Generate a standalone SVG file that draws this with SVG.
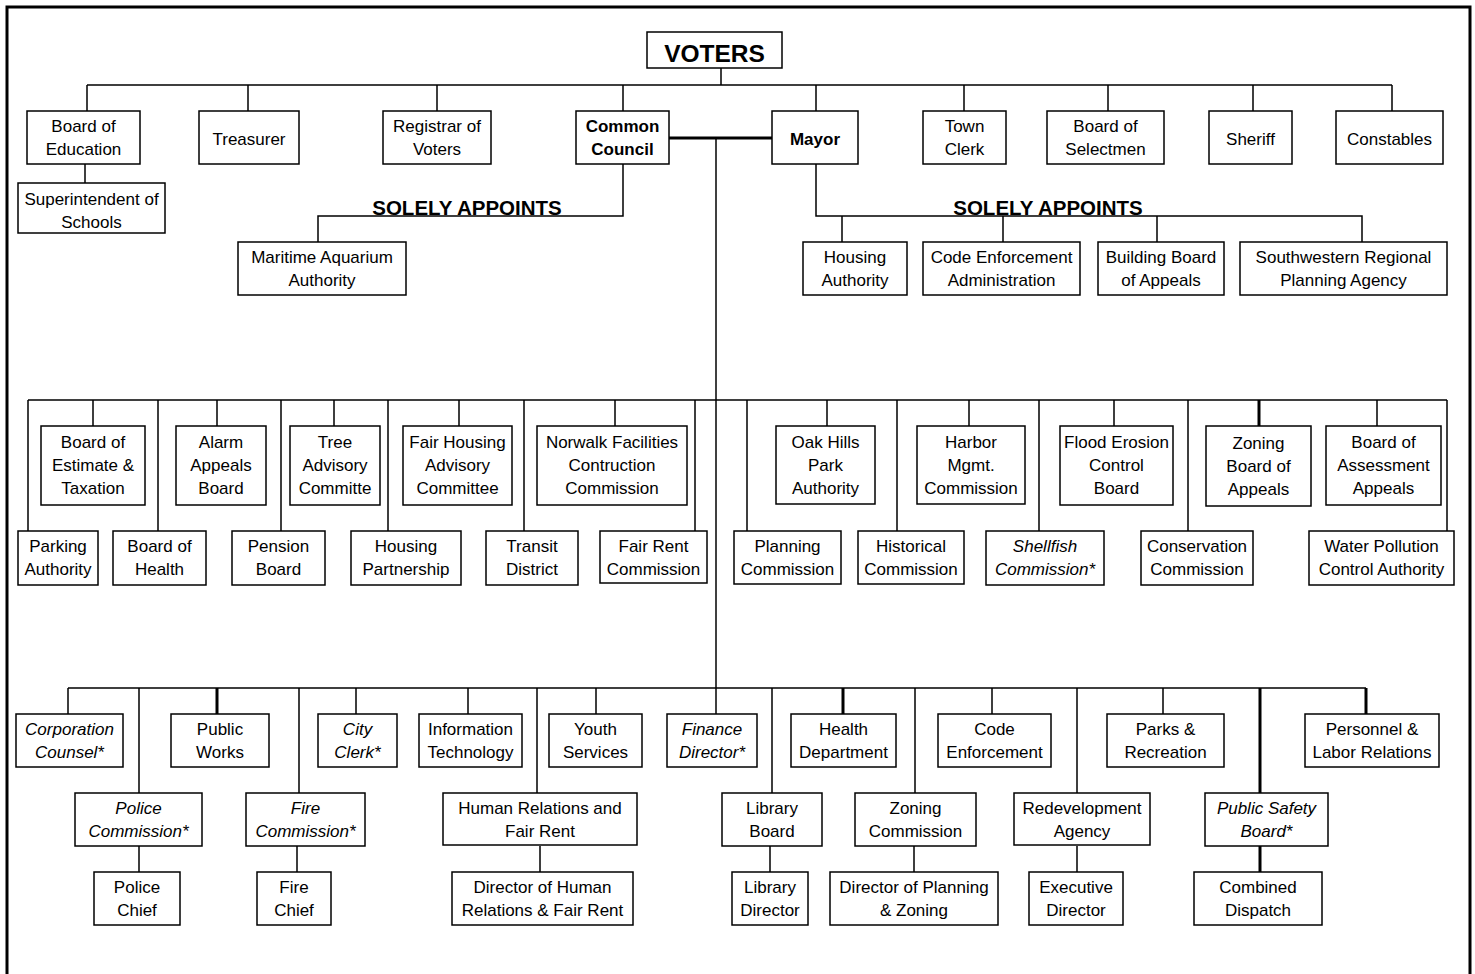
<svg xmlns="http://www.w3.org/2000/svg" width="1475" height="974" viewBox="0 0 1475 974">
<style>
rect{fill:#fff;stroke:#000;stroke-width:1.5}
text{font-family:"Liberation Sans",Arial,sans-serif;font-size:17px;text-anchor:middle;fill:#000}
.b{font-weight:bold}
.i{font-style:italic}
.h{font-weight:bold;font-size:20.5px}
.c path{fill:none;stroke:#000;stroke-width:1.5}
.c path.k{stroke-width:3}
</style>
<rect width="1475" height="974" style="stroke:none"/>
<path d="M7,990 V7 H1470 V990" fill="none" stroke="#000" stroke-width="3"/>
<g class="c" id="connectors">
<path d="M721,68 V85 M87,85 H1392 M87,85 V111 M248,85 V111 M437,85 V111 M623,85 V111 M816,85 V111 M964,85 V111 M1108,85 V111 M1253,85 V111 M1392,85 V111"/>
<path d="M85,164 V183"/>
<path d="M623,164 V216 H318 V242"/>
<path d="M816,164 V216 H1362 V242 M842,216 V242 M1003,216 V242 M1157,216 V242"/>
<path class="k" d="M669,138 H772"/>
<path d="M716,138 V714"/>
<path d="M28,400 H1447 M93,400 V426 M217,400 V426 M334,400 V426 M459,400 V426 M615,400 V426 M827,400 V426 M969,400 V426 M1114,400 V426 M1377,400 V426"/>
<path class="k" d="M1259,400 V426"/>
<path d="M28,400 V531 M158,400 V531 M281,400 V531 M388,400 V531 M524,400 V531 M695,400 V531 M747,400 V531 M897,400 V531 M1039,400 V531 M1188,400 V531 M1447,400 V531"/>
<path d="M68,688 H1366 M68,688 V714 M356,688 V714 M468,688 V714 M596,688 V714 M992,688 V714 M1163,688 V714"/>
<path class="k" d="M217,688 V714 M843,688 V714 M1366,688 V714 M1260,688 V793 M1260,846 V872"/>
<path d="M139,688 V793 M299,688 V793 M537,688 V793 M772,688 V793 M915,688 V793 M1077,688 V793"/>
<path d="M139,846 V872 M297,846 V872 M540,846 V872 M770,846 V872 M914,846 V872 M1077,846 V872"/>
</g>
<text class="h" x="467" y="215">SOLELY APPOINTS</text>
<text class="h" x="1048" y="215">SOLELY APPOINTS</text>
<g id="voters"><rect x="647" y="32" width="135" height="36"/><text class="b" style="font-size:24.5px" x="714.5" y="62">VOTERS</text></g>
<g id="board-of-education"><rect x="27" y="111" width="113" height="53"/><text x="83.5" y="132">Board of</text><text x="83.5" y="155">Education</text></g>
<g id="treasurer"><rect x="199" y="111" width="100" height="53"/><text x="249" y="144.5">Treasurer</text></g>
<g id="registrar"><rect x="383" y="111" width="108" height="53"/><text x="437" y="132">Registrar of</text><text x="437" y="155">Voters</text></g>
<g id="common-council"><rect x="576" y="111" width="93" height="53"/><text class="b" x="622.5" y="132">Common</text><text class="b" x="622.5" y="155">Council</text></g>
<g id="mayor"><rect x="772" y="111" width="86" height="53"/><text class="b" x="815" y="144.5">Mayor</text></g>
<g id="town-clerk"><rect x="923" y="111" width="83" height="53"/><text x="964.5" y="132">Town</text><text x="964.5" y="155">Clerk</text></g>
<g id="selectmen"><rect x="1047" y="111" width="117" height="53"/><text x="1105.5" y="132">Board of</text><text x="1105.5" y="155">Selectmen</text></g>
<g id="sheriff"><rect x="1209" y="111" width="83" height="53"/><text x="1250.5" y="144.5">Sheriff</text></g>
<g id="constables"><rect x="1336" y="111" width="107" height="53"/><text x="1389.5" y="144.5">Constables</text></g>
<g id="superintendent"><rect x="18" y="183" width="147" height="50"/><text x="91.5" y="205">Superintendent of</text><text x="91.5" y="228">Schools</text></g>
<g id="maritime"><rect x="238" y="242" width="168" height="53"/><text x="322" y="263">Maritime Aquarium</text><text x="322" y="286">Authority</text></g>
<g id="housing-authority"><rect x="803" y="242" width="104" height="53"/><text x="855" y="263">Housing</text><text x="855" y="286">Authority</text></g>
<g id="code-enforcement-admin"><rect x="923" y="242" width="157" height="53"/><text x="1001.5" y="263">Code Enforcement</text><text x="1001.5" y="286">Administration</text></g>
<g id="building-board"><rect x="1098" y="242" width="126" height="53"/><text x="1161" y="263">Building Board</text><text x="1161" y="286">of Appeals</text></g>
<g id="swrpa"><rect x="1240" y="242" width="207" height="53"/><text x="1343.5" y="263">Southwestern Regional</text><text x="1343.5" y="286">Planning Agency</text></g>
<g id="bet"><rect x="41" y="426" width="104" height="79"/><text x="93" y="448">Board of</text><text x="93" y="471">Estimate &amp;</text><text x="93" y="494">Taxation</text></g>
<g id="alarm"><rect x="176" y="426" width="90" height="79"/><text x="221" y="448">Alarm</text><text x="221" y="471">Appeals</text><text x="221" y="494">Board</text></g>
<g id="tree"><rect x="290" y="426" width="90" height="79"/><text x="335" y="448">Tree</text><text x="335" y="471">Advisory</text><text x="335" y="494">Committe</text></g>
<g id="fair-housing"><rect x="403" y="426" width="109" height="79"/><text x="457.5" y="448">Fair Housing</text><text x="457.5" y="471">Advisory</text><text x="457.5" y="494">Committee</text></g>
<g id="norwalk-facilities"><rect x="537" y="426" width="150" height="79"/><text x="612" y="448">Norwalk Facilities</text><text x="612" y="471">Contruction</text><text x="612" y="494">Commission</text></g>
<g id="oak-hills"><rect x="776" y="426" width="99" height="78"/><text x="825.5" y="448">Oak Hills</text><text x="825.5" y="471">Park</text><text x="825.5" y="494">Authority</text></g>
<g id="harbor"><rect x="917" y="426" width="108" height="78"/><text x="971" y="448">Harbor</text><text x="971" y="471">Mgmt.</text><text x="971" y="494">Commission</text></g>
<g id="flood"><rect x="1060" y="426" width="113" height="79"/><text x="1116.5" y="448">Flood Erosion</text><text x="1116.5" y="471">Control</text><text x="1116.5" y="494">Board</text></g>
<g id="zba"><rect x="1206" y="426" width="105" height="80"/><text x="1258.5" y="449">Zoning</text><text x="1258.5" y="472">Board of</text><text x="1258.5" y="495">Appeals</text></g>
<g id="baa"><rect x="1326" y="426" width="115" height="79"/><text x="1383.5" y="448">Board of</text><text x="1383.5" y="471">Assessment</text><text x="1383.5" y="494">Appeals</text></g>
<g id="parking"><rect x="18" y="531" width="80" height="54"/><text x="58" y="552">Parking</text><text x="58" y="575">Authority</text></g>
<g id="board-of-health"><rect x="113" y="531" width="93" height="54"/><text x="159.5" y="552">Board of</text><text x="159.5" y="575">Health</text></g>
<g id="pension"><rect x="232" y="531" width="93" height="54"/><text x="278.5" y="552">Pension</text><text x="278.5" y="575">Board</text></g>
<g id="housing-partnership"><rect x="351" y="531" width="110" height="54"/><text x="406" y="552">Housing</text><text x="406" y="575">Partnership</text></g>
<g id="transit"><rect x="486" y="531" width="92" height="54"/><text x="532" y="552">Transit</text><text x="532" y="575">District</text></g>
<g id="fair-rent"><rect x="600" y="531" width="107" height="52"/><text x="653.5" y="552">Fair Rent</text><text x="653.5" y="575">Commission</text></g>
<g id="planning"><rect x="734" y="531" width="107" height="53"/><text x="787.5" y="552">Planning</text><text x="787.5" y="575">Commission</text></g>
<g id="historical"><rect x="858" y="531" width="106" height="53"/><text x="911" y="552">Historical</text><text x="911" y="575">Commission</text></g>
<g id="shellfish"><rect x="986" y="531" width="118" height="54"/><text class="i" x="1045" y="552">Shellfish</text><text class="i" x="1045" y="575">Commission*</text></g>
<g id="conservation"><rect x="1141" y="531" width="112" height="54"/><text x="1197" y="552">Conservation</text><text x="1197" y="575">Commission</text></g>
<g id="water-pollution"><rect x="1309" y="531" width="145" height="54"/><text x="1381.5" y="552">Water Pollution</text><text x="1381.5" y="575">Control Authority</text></g>
<g id="corp-counsel"><rect x="16" y="714" width="107" height="53"/><text class="i" x="69.5" y="735">Corporation</text><text class="i" x="69.5" y="758">Counsel*</text></g>
<g id="public-works"><rect x="171" y="714" width="98" height="53"/><text x="220" y="735">Public</text><text x="220" y="758">Works</text></g>
<g id="city-clerk"><rect x="318" y="714" width="79" height="53"/><text class="i" x="357.5" y="735">City</text><text class="i" x="357.5" y="758">Clerk*</text></g>
<g id="it"><rect x="419" y="714" width="103" height="53"/><text x="470.5" y="735">Information</text><text x="470.5" y="758">Technology</text></g>
<g id="youth"><rect x="549" y="714" width="93" height="53"/><text x="595.5" y="735">Youth</text><text x="595.5" y="758">Services</text></g>
<g id="finance"><rect x="667" y="714" width="90" height="53"/><text class="i" x="712" y="735">Finance</text><text class="i" x="712" y="758">Director*</text></g>
<g id="health-dept"><rect x="791" y="714" width="105" height="53"/><text x="843.5" y="735">Health</text><text x="843.5" y="758">Department</text></g>
<g id="code-enforcement"><rect x="938" y="714" width="113" height="53"/><text x="994.5" y="735">Code</text><text x="994.5" y="758">Enforcement</text></g>
<g id="parks"><rect x="1107" y="714" width="117" height="53"/><text x="1165.5" y="735">Parks &amp;</text><text x="1165.5" y="758">Recreation</text></g>
<g id="personnel"><rect x="1305" y="714" width="134" height="53"/><text x="1372" y="735">Personnel &amp;</text><text x="1372" y="758">Labor Relations</text></g>
<g id="police-comm"><rect x="75" y="793" width="127" height="53"/><text class="i" x="138.5" y="814">Police</text><text class="i" x="138.5" y="837">Commission*</text></g>
<g id="fire-comm"><rect x="246" y="793" width="119" height="53"/><text class="i" x="305.5" y="814">Fire</text><text class="i" x="305.5" y="837">Commission*</text></g>
<g id="human-relations"><rect x="443" y="793" width="194" height="52"/><text x="540" y="814">Human Relations and</text><text x="540" y="837">Fair Rent</text></g>
<g id="library-board"><rect x="722" y="793" width="100" height="53"/><text x="772" y="814">Library</text><text x="772" y="837">Board</text></g>
<g id="zoning-comm"><rect x="855" y="793" width="121" height="53"/><text x="915.5" y="814">Zoning</text><text x="915.5" y="837">Commission</text></g>
<g id="redevelopment"><rect x="1014" y="793" width="136" height="52"/><text x="1082" y="814">Redevelopment</text><text x="1082" y="837">Agency</text></g>
<g id="public-safety"><rect x="1205" y="793" width="123" height="53"/><text class="i" x="1266.5" y="814">Public Safety</text><text class="i" x="1266.5" y="837">Board*</text></g>
<g id="police-chief"><rect x="94" y="872" width="86" height="53"/><text x="137" y="893">Police</text><text x="137" y="916">Chief</text></g>
<g id="fire-chief"><rect x="257" y="872" width="74" height="53"/><text x="294" y="893">Fire</text><text x="294" y="916">Chief</text></g>
<g id="dir-hr"><rect x="452" y="872" width="181" height="53"/><text x="542.5" y="893">Director of Human</text><text x="542.5" y="916">Relations &amp; Fair Rent</text></g>
<g id="library-director"><rect x="732" y="872" width="76" height="53"/><text x="770" y="893">Library</text><text x="770" y="916">Director</text></g>
<g id="dir-pz"><rect x="830" y="872" width="168" height="53"/><text x="914" y="893">Director of Planning</text><text x="914" y="916">&amp; Zoning</text></g>
<g id="exec-director"><rect x="1029" y="872" width="94" height="53"/><text x="1076" y="893">Executive</text><text x="1076" y="916">Director</text></g>
<g id="combined-dispatch"><rect x="1194" y="872" width="128" height="53"/><text x="1258" y="893">Combined</text><text x="1258" y="916">Dispatch</text></g>
</svg>
